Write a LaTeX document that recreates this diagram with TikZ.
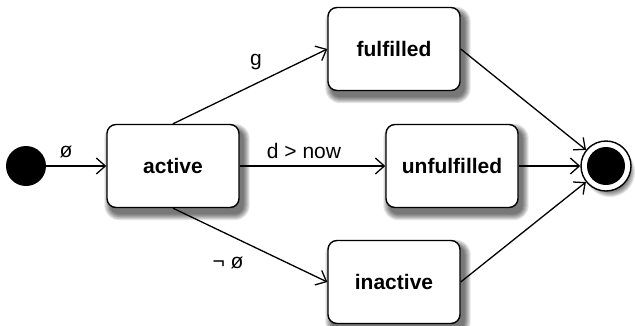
\documentclass[tikz,border=0pt]{standalone}
\usepackage{fontspec}
\setmainfont{Liberation Sans}
\usetikzlibrary{arrows.meta,calc,backgrounds}
\tikzset{
  state/.style={draw, line width=1.4pt, rounded corners=9pt, fill=white,
    minimum width=132pt, minimum height=83pt, font=\fontsize{21}{25}\selectfont\bfseries},
  trans/.style={line width=1.3pt, -{Straight Barb[length=9pt,width=16pt,line width=1.3pt]}},
  lbl/.style={font=\fontsize{21}{25}\selectfont},
  shadowlayer/.style={fill=black, opacity=0.1, draw=none},
}
\newcommand{\boxshadow}[1]{%
  \foreach \k in {0,1,...,6}{%
    \fill[shadowlayer, rounded corners=9pt+\k pt] ($(#1.north west)+(4-\k,6-\k)$) rectangle ($(#1.south east)+(4+\k,6+\k)$);}}
\newcommand{\circshadow}[2]{%
  \foreach \k in {0,1,...,6}{%
    \fill[shadowlayer] ($(#1)+(4,6)$) circle[radius=#2+\k];}}
\begin{document}
\begin{tikzpicture}[x=1pt,y=-1pt]
\useasboundingbox (0,0) rectangle (635,325);
\node[circle, fill=black, minimum size=40pt, inner sep=0pt] (init) at (26,166) {};
\node[state] (active) at (173,166) {active};
\node[state] (ful) at (394,49) {fulfilled};
\node[state] (unf) at (452,166) {unfulfilled};
\node[state] (inact) at (394,282) {inactive};
\node[circle, draw, line width=1.4pt, fill=white, minimum size=50pt, inner sep=0pt] (final) at (606,166) {};
\node[circle, fill=black, minimum size=38pt, inner sep=0pt] (finalin) at (final) {};
\begin{scope}[on background layer]
\boxshadow{active}
\boxshadow{ful}
\boxshadow{unf}
\boxshadow{inact}
\circshadow{final}{19}
\end{scope}
\draw[trans] (init) -- (active);
\draw[trans] (active.north) -- (ful.west);
\draw[trans] (active) -- (unf);
\draw[trans] (active.south) -- (inact.west);
\draw[trans] (ful.east) -- (final);
\draw[trans] (unf) -- (final);
\draw[trans] (inact.east) -- (final);
\node[lbl] (l1) at (66,152) {ø};
\node[lbl] (l2) at (256,62) {g};
\node[lbl] (l3) at (304,151) {d > now};
\node[lbl] (l4) at (228,263) {¬ ø};
\end{tikzpicture}
\end{document}
